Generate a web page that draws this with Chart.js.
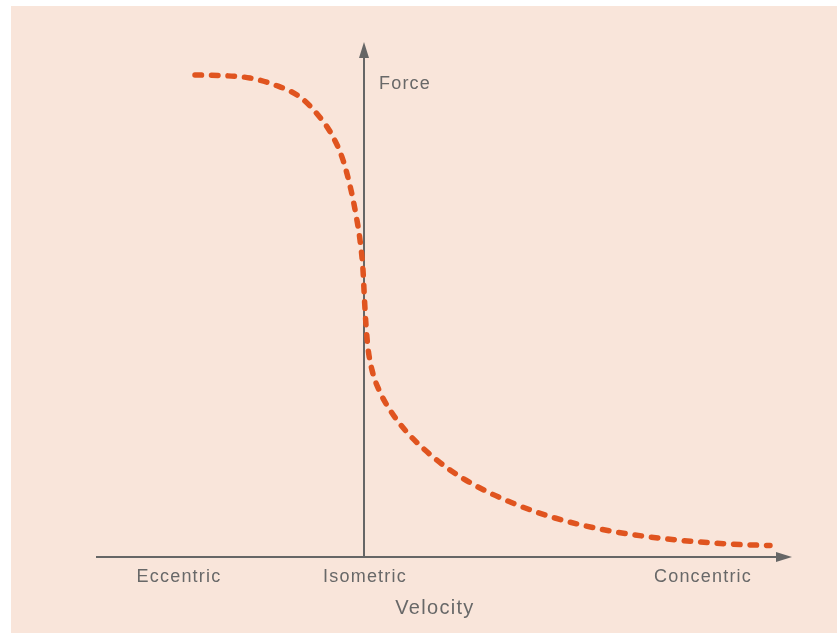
<!DOCTYPE html>
<html>
<head>
<meta charset="utf-8">
<script src="https://cdn.jsdelivr.net/npm/chart.js@4/dist/chart.umd.min.js"></script>
<style>
  html, body { margin: 0; padding: 0; background: #ffffff; }
  #wrap { width: 838px; height: 634px; }
</style>
</head>
<body>
<div id="wrap"><canvas id="chart" width="838" height="634"></canvas></div>
<script>
// Force-velocity curve (arbitrary units)
const velocity = [-1.69, -1.44, -1.14, -0.89, -0.64, -0.46, -0.32, -0.21, -0.13, -0.08, -0.04, -0.01, 0.005, 0.02, 0.04, 0.08, 0.15, 0.26, 0.41, 0.61, 0.86, 1.16, 1.51, 1.91, 2.36, 2.86, 3.36, 3.76, 4.06];
const force    = [4.82, 4.815, 4.79, 4.72, 4.60, 4.42, 4.22, 3.97, 3.67, 3.42, 3.17, 2.87, 2.57, 2.32, 2.09, 1.87, 1.67, 1.47, 1.27, 1.07, 0.87, 0.69, 0.53, 0.39, 0.28, 0.20, 0.15, 0.125, 0.115];

// x-axis category labels and where they sit
const tickLabels = ['Eccentric', 'Isometric', 'Concentric'];
const tickPos = [-1.86, 0, 3.38];
const xTitle = 'Velocity';
const yTitle = 'Force';

const xMin = -2.68, xMax = 4.32;
const yMin = 0, yMax = 5.14;

const points = velocity.map((v, i) => ({ x: v, y: force[i] }));

const axisColor = '#666666';
const textColor = '#686868';

// peach panel + arrow axes + labels
const decor = {
  id: 'decor',
  beforeDraw(chart) {
    const c = chart.ctx;
    c.save();
    c.fillStyle = '#f9e5da';
    c.fillRect(11, 6, 826, 627);
    c.restore();
  },
  beforeDatasetsDraw(chart) {
    const c = chart.ctx;
    const xs = chart.scales.x, ys = chart.scales.y;
    const y0 = ys.getPixelForValue(0);
    const x0 = xs.getPixelForValue(0);
    const left = xs.getPixelForValue(xMin);
    const right = xs.getPixelForValue(4.28);
    const top = ys.getPixelForValue(yMax) - 1;

    c.save();
    c.strokeStyle = axisColor;
    c.fillStyle = axisColor;
    c.lineWidth = 2;
    // horizontal axis
    c.beginPath();
    c.moveTo(left, y0);
    c.lineTo(right - 14, y0);
    c.stroke();
    c.beginPath();
    c.moveTo(right, y0);
    c.lineTo(right - 16, y0 - 5);
    c.lineTo(right - 16, y0 + 5);
    c.closePath();
    c.fill();
    // vertical axis
    c.beginPath();
    c.moveTo(x0, y0);
    c.lineTo(x0, top + 14);
    c.stroke();
    c.beginPath();
    c.moveTo(x0, top);
    c.lineTo(x0 - 5, top + 16);
    c.lineTo(x0 + 5, top + 16);
    c.closePath();
    c.fill();

    // labels
    c.fillStyle = textColor;
    c.textBaseline = 'middle';
    c.font = '18px "Liberation Sans", Arial, sans-serif';
    c.letterSpacing = '1.2px';
    c.textAlign = 'center';
    tickLabels.forEach((t, i) => {
      c.fillText(t, xs.getPixelForValue(tickPos[i]) + 1, y0 + 20);
    });
    c.textAlign = 'left';
    c.fillText(yTitle, x0 + 15, ys.getPixelForValue(4.73));
    c.font = '20px "Liberation Sans", Arial, sans-serif';
    c.letterSpacing = '1.3px';
    c.textAlign = 'center';
    c.fillText(xTitle, xs.getPixelForValue(0.70) + 1, y0 + 51);
    c.restore();
  }
};

new Chart(document.getElementById('chart'), {
  type: 'scatter',
  data: {
    datasets: [{
      data: points,
      showLine: true,
      borderColor: '#e0541f',
      borderWidth: 5.5,
      borderDash: [6.5, 10],
      borderCapStyle: 'round',
      cubicInterpolationMode: 'monotone',
      pointRadius: 0,
      fill: false
    }]
  },
  options: {
    responsive: false,
    animation: false,
    layout: { padding: { left: 96, right: 42, top: 43, bottom: 77 } },
    plugins: { legend: { display: false }, tooltip: { enabled: false } },
    scales: {
      x: { type: 'linear', min: xMin, max: xMax, display: false },
      y: { type: 'linear', min: yMin, max: yMax, display: false }
    }
  },
  plugins: [decor]
});
</script>
</body>
</html>
